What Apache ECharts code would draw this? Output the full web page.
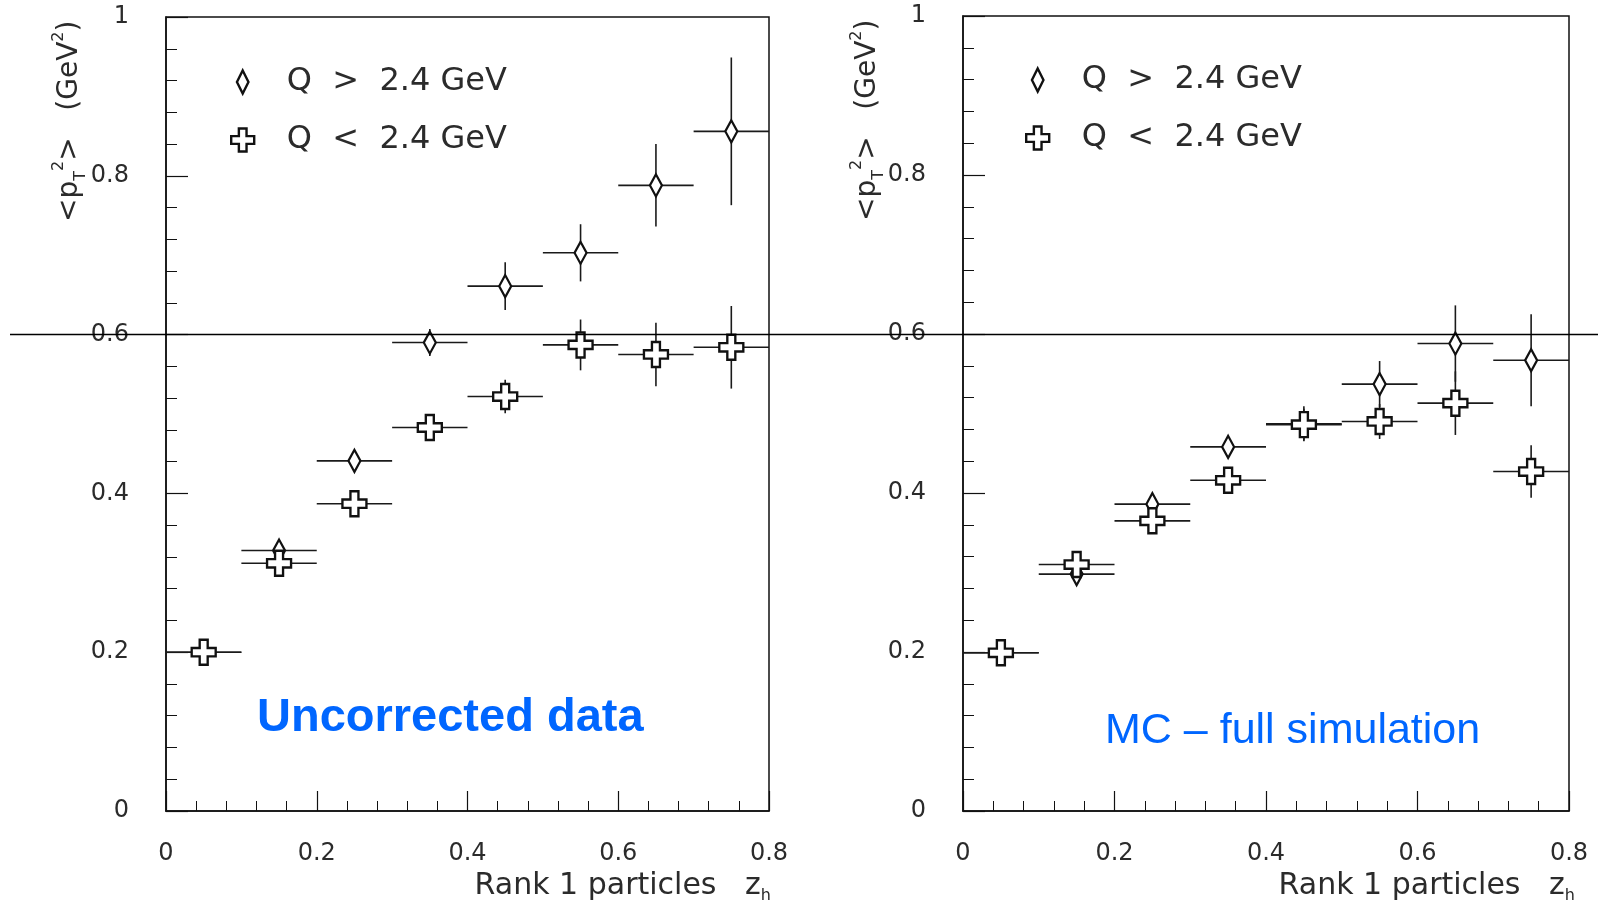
<!DOCTYPE html>
<html>
<head>
<meta charset="utf-8">
<title>&lt;pT2&gt; vs zh, rank 1 particles</title>
<script src="https://cdn.jsdelivr.net/npm/echarts@6.0.0/dist/echarts.min.js"></script>
<style>
    html, body { margin: 0; padding: 0; background: #fff; }
    #chart { width: 1598px; height: 902px; }
</style>
</head>
<body>
<div id="chart"></div>
<script>
// bin centres in z_h, every bin is 0.1 wide
const zBins = [0.05, 0.15, 0.25, 0.35, 0.45, 0.55, 0.65, 0.75];
const binHalfWidth = 0.05;

// left panel - uncorrected data
const dataHighQ    = [0.200, 0.328, 0.441, 0.590, 0.661, 0.703, 0.788, 0.856];
const dataHighQErr = [0.008, 0.012, 0.013, 0.017, 0.030, 0.036, 0.052, 0.093];
const dataLowQ     = [0.200, 0.312, 0.387, 0.483, 0.522, 0.587, 0.575, 0.584];
const dataLowQErr  = [0.008, 0.011, 0.015, 0.016, 0.021, 0.032, 0.040, 0.052];

// right panel - MC full simulation
const mcHighQ    = [0.199, 0.298, 0.386, 0.458, 0.487, 0.537, 0.588, 0.567];
const mcHighQErr = [0.006, 0.010, 0.011, 0.012, 0.022, 0.029, 0.048, 0.058];
const mcLowQ     = [0.199, 0.310, 0.365, 0.416, 0.486, 0.490, 0.513, 0.427];
const mcLowQErr  = [0.006, 0.010, 0.011, 0.012, 0.020, 0.022, 0.040, 0.033];

const seriesNames = ['Q > 2.4 GeV', 'Q < 2.4 GeV'];
const refLevel = 0.6;   // the horizontal line drawn across both panels

const AXIS_COLOR = '#111';
const TEXT_COLOR = '#2b2b2b';
const BLUE = '#0066ff';

// hollow markers
const DIAMOND = 'path://M5,0 Q7.5,5 10,10 Q7.5,15 5,20 Q2.5,15 0,10 Q2.5,5 5,0 Z';
const CROSS = 'path://M8,0 H16 V8 H24 V16 H16 V24 H8 V16 H0 V8 H8 Z';
const markerStyle = { color: '#fff', borderColor: '#111', borderWidth: 2.4, opacity: 1 };

const chart = echarts.init(document.getElementById('chart'));

const toErrData = (vals, errs) => zBins.map((z, i) => [z, vals[i], errs[i]]);
const toPoints = (vals) => zBins.map((z, i) => [z, vals[i]]);

// horizontal bar = bin width, vertical bar = statistical error
const renderErrorBars = (params, api) => {
    const x = api.value(0), y = api.value(1), e = api.value(2);
    const l = api.coord([x - binHalfWidth, y]);
    const r = api.coord([x + binHalfWidth, y]);
    const t = api.coord([x, y + e]);
    const b = api.coord([x, y - e]);
    const style = { stroke: '#1a1a1a', lineWidth: 1.6 };
    return {
        type: 'group',
        children: [
            { type: 'line', shape: { x1: l[0], y1: l[1], x2: r[0], y2: r[1] }, style: style },
            { type: 'line', shape: { x1: t[0], y1: t[1], x2: b[0], y2: b[1] }, style: style }
        ]
    };
};

const panelSeries = (p, hi, hiErr, lo, loErr) => [
    { type: 'custom', xAxisIndex: p, yAxisIndex: p, renderItem: renderErrorBars, data: toErrData(hi, hiErr), z: 2, silent: true },
    { type: 'custom', xAxisIndex: p, yAxisIndex: p, renderItem: renderErrorBars, data: toErrData(lo, loErr), z: 2, silent: true },
    {
        type: 'scatter', name: seriesNames[0], xAxisIndex: p, yAxisIndex: p,
        symbol: DIAMOND, symbolSize: [12, 22], itemStyle: markerStyle, data: toPoints(hi), z: 3
    },
    {
        type: 'scatter', name: seriesNames[1], xAxisIndex: p, yAxisIndex: p,
        symbol: CROSS, symbolSize: [24, 25], itemStyle: markerStyle, data: toPoints(lo), z: 4
    }
];

const xAxisFor = (p) => ({
    type: 'value', gridIndex: p, min: 0, max: 0.8, interval: 0.2,
    axisLine: { show: true, onZero: false, lineStyle: { color: AXIS_COLOR, width: 1.5 } },
    axisTick: { show: true, inside: true, length: 20, lineStyle: { color: AXIS_COLOR, width: 1.2 } },
    minorTick: { show: true, splitNumber: 5, length: 10, lineStyle: { color: AXIS_COLOR, width: 1 } },
    axisLabel: { margin: 31, fontSize: 24, fontFamily: 'DejaVu Sans', color: TEXT_COLOR },
    splitLine: { show: false }
});

const yAxisFor = (p) => ({
    type: 'value', gridIndex: p, min: 0, max: 1, interval: 0.2,
    axisLine: { show: true, onZero: false, lineStyle: { color: AXIS_COLOR, width: 1.5 } },
    axisTick: { show: true, inside: true, length: 22, lineStyle: { color: AXIS_COLOR, width: 1.2 } },
    minorTick: { show: true, splitNumber: 5, length: 11, lineStyle: { color: AXIS_COLOR, width: 1 } },
    axisLabel: { margin: 37, fontSize: 24, fontFamily: 'DejaVu Sans', color: TEXT_COLOR },
    splitLine: { show: false }
});

const legendFor = (left, top) => ({
    orient: 'vertical', left: left, top: top,
    itemWidth: 78, itemHeight: 23, itemGap: 26,
    selectedMode: false,
    data: seriesNames,
    // the original typesetting puts wide gaps round the relation sign
    formatter: (name) => name.replace(' > ', '  >  ').replace(' < ', '  <  '),
    textStyle: { fontSize: 32, fontFamily: 'DejaVu Sans', color: TEXT_COLOR },
    itemStyle: markerStyle
});

const option = {
    animation: false,
    backgroundColor: '#fff',
    grid: [
        { left: 166, top: 17, width: 603, height: 794, show: true, borderColor: AXIS_COLOR, borderWidth: 1.5 },
        { left: 963, top: 16, width: 606, height: 795, show: true, borderColor: AXIS_COLOR, borderWidth: 1.5 }
    ],
    xAxis: [xAxisFor(0), xAxisFor(1)],
    yAxis: [yAxisFor(0), yAxisFor(1)],
    legend: [legendFor(225, 61), legendFor(1020, 59)],
    series: [
        ...panelSeries(0, dataHighQ, dataHighQErr, dataLowQ, dataLowQErr),
        ...panelSeries(1, mcHighQ, mcHighQErr, mcLowQ, mcLowQErr)
    ]
};

chart.setOption(option);

// labels, annotations and the reference line (its height comes from the y axis)
const yRef = chart.convertToPixel({ yAxisIndex: 0 }, refLevel);

const scriptRich = {
    sub: { fontSize: 16, lineHeight: 16, verticalAlign: 'bottom', fill: TEXT_COLOR, fontFamily: 'DejaVu Sans' },
    sup: { fontSize: 16, lineHeight: 16, verticalAlign: 'top', fill: TEXT_COLOR, fontFamily: 'DejaVu Sans' }
};

const yName = (x, y) => ({
    type: 'text', x: x, y: y, rotation: Math.PI / 2, z: 50,
    style: {
        text: '<p{sub|T}{sup|2}>   (GeV{sup|2})',
        fontSize: 28, fontFamily: 'DejaVu Sans', fill: TEXT_COLOR,
        align: 'left', verticalAlign: 'middle', lineHeight: 38,
        rich: scriptRich
    }
});

const xName = (x, y) => ({
    type: 'text', x: x, y: y, z: 50,
    style: {
        text: 'Rank 1 particles   z{sub|h}',
        fontSize: 30, fontFamily: 'DejaVu Sans', fill: TEXT_COLOR,
        align: 'right', verticalAlign: 'middle', lineHeight: 36,
        rich: scriptRich
    }
});

chart.setOption({
    graphic: [
        yName(70, 222),
        yName(868, 221),
        xName(771, 886),
        xName(1575, 886),
        {
            type: 'text', x: 257, y: 718, z: 50,
            style: {
                text: 'Uncorrected data', fontSize: 47, fontWeight: 'bold',
                fontFamily: '"Liberation Sans", Arial, sans-serif', fill: BLUE,
                align: 'left', verticalAlign: 'middle'
            }
        },
        {
            type: 'text', x: 1105, y: 731, z: 50,
            style: {
                text: 'MC \u2013 full simulation', fontSize: 43,
                fontFamily: '"Liberation Sans", Arial, sans-serif', fill: BLUE,
                align: 'left', verticalAlign: 'middle'
            }
        },
        {
            type: 'line', z: 60,
            shape: { x1: 10, y1: yRef, x2: 1598, y2: yRef },
            style: { stroke: '#000', lineWidth: 1.5 }
        }
    ]
});

window.addEventListener('resize', () => chart.resize());
</script>
</body>
</html>
